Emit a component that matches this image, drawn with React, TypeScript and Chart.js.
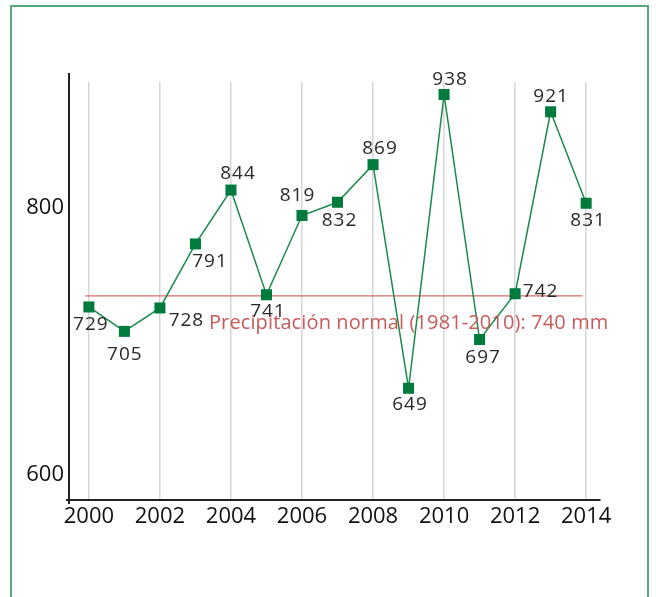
import React, { useEffect, useRef } from 'react';
import { Chart, registerables } from 'chart.js';

Chart.register(...registerables);

// ---- Data ----
const years = [2000, 2001, 2002, 2003, 2004, 2005, 2006, 2007, 2008, 2009, 2010, 2011, 2012, 2013, 2014];
const precipitation = [729, 705, 728, 791, 844, 741, 819, 832, 869, 649, 938, 697, 742, 921, 831];
const normalValue = 740;
const normalSpan = [1999.9, 2013.9];
const normalLabel = 'Precipitación normal (1981-2010): 740 mm';
const xTickValues = [2000, 2002, 2004, 2006, 2008, 2010, 2012, 2014];
const yTickValues = [600, 800];

// ---- Label placement (style) ----
const labelOffsets: number[][] = [
  [1.5, 17.5], [0, 23], [26, 12.5], [14, 17.5], [6.5, -16.5], [1, 16.5], [-5, -20], [1.5, 18],
  [6.5, -16.5], [1, 16.5], [5.5, -15], [3, 18.5], [25, -2], [0, -15.5], [1.5, 17.5],
];

const FONT = '"Open Sans", "DejaVu Sans", sans-serif';

const labelsPlugin = {
  id: 'customLabels',
  afterDatasetsDraw(chart: any) {
    const ctx = chart.ctx;
    const meta = chart.getDatasetMeta(0);
    ctx.save();
    ctx.font = `19px ${FONT}`;
    (ctx as any).letterSpacing = '1px';
    ctx.fillStyle = '#2a2a2a';
    ctx.textAlign = 'center';
    ctx.textBaseline = 'middle';
    meta.data.forEach((pt: any, i: number) => {
      const [dx, dy] = labelOffsets[i];
      ctx.fillText(String(precipitation[i]), pt.x + dx + 0.5, pt.y + dy);
    });
    // normal label
    const xs = chart.scales.x;
    const ys = chart.scales.yData;
    (ctx as any).letterSpacing = '0.12px';
    ctx.font = `20px ${FONT}`;
    ctx.fillStyle = '#c85a5a';
    ctx.textAlign = 'left';
    ctx.textBaseline = 'alphabetic';
    ctx.fillText(normalLabel, xs.getPixelForValue(2003.38), ys.getPixelForValue(normalValue) + 33);
    ctx.restore();
  },
  afterDraw(chart: any) {
    const { ctx, chartArea } = chart;
    ctx.save();
    ctx.strokeStyle = '#222';
    ctx.lineWidth = 2;
    ctx.beginPath();
    ctx.moveTo(chartArea.left, chartArea.top - 9);
    ctx.lineTo(chartArea.left, chartArea.bottom + 4);
    ctx.moveTo(chartArea.left - 3, chartArea.bottom);
    ctx.lineTo(chartArea.left, chartArea.bottom);
    ctx.stroke();
    ctx.restore();
  },
};

export default function App() {
  const canvasRef = useRef<HTMLCanvasElement | null>(null);

  useEffect(() => {
    if (!canvasRef.current) return;
    const chart = new Chart(canvasRef.current, {
      type: 'line',
      data: {
        datasets: [
          {
            label: 'Precipitación',
            data: years.map((y, i) => ({ x: y, y: precipitation[i] })),
            yAxisID: 'yData',
            borderColor: '#1b8a4b',
            borderWidth: 1.5,
            pointStyle: 'rect',
            pointRadius: 7.8,
            pointBorderWidth: 0,
            pointBackgroundColor: '#007a3d',
            pointBorderColor: '#007a3d',
            tension: 0,
          },
          {
            label: 'Normal',
            data: normalSpan.map((x) => ({ x, y: normalValue })),
            yAxisID: 'yData',
            borderColor: '#db6a66',
            borderWidth: 1.2,
            pointRadius: 0,
            order: 1,
          },
        ],
      },
      options: {
        animation: false,
        responsive: false,
        layout: { padding: { top: 82, right: 56, left: 0, bottom: 0 } },
        plugins: { legend: { display: false }, tooltip: { enabled: false } },
        scales: {
          x: {
            type: 'linear',
            min: 1999.44,
            max: 2014.39,
            afterBuildTicks: (scale: any) => {
              scale.ticks = xTickValues.map((v) => ({ value: v }));
            },
            afterFit: (scale: any) => {
              scale.height = 97;
            },
            grid: { color: '#d6d6d6', lineWidth: 1.5, drawTicks: false },
            border: { display: true, color: '#222', width: 2 },
            ticks: {
              color: '#111',
              font: { family: FONT, size: 22 },
              padding: 4,
              maxRotation: 0,
              autoSkip: false,
              callback: (v: any) => String(v),
            },
          },
          y: {
            type: 'linear',
            position: 'left',
            min: 581.3,
            max: 894.4,
            afterBuildTicks: (scale: any) => {
              scale.ticks = yTickValues.map((v) => ({ value: v }));
            },
            afterFit: (scale: any) => {
              scale.width = 69;
            },
            grid: { display: false, drawTicks: false },
            border: { display: true, color: '#222', width: 2 },
            ticks: {
              color: '#111',
              font: { family: FONT, size: 22 },
              padding: 5,
              callback: (v: any) => String(v),
            },
          },
          yData: {
            type: 'linear',
            display: false,
            min: 539.1,
            max: 950.3,
          },
        },
      },
      plugins: [labelsPlugin],
    } as any);
    return () => chart.destroy();
  }, []);

  return (
    <div style={{ position: 'fixed', left: 0, top: 0, width: 656, height: 597, background: '#fff', overflow: 'hidden' }}>
      <div
        style={{
          position: 'absolute',
          left: 10,
          top: 5,
          width: 639,
          height: 640,
          border: '2px solid #55a978',
          boxSizing: 'border-box',
        }}
      />
      <canvas
        ref={canvasRef}
        width={656}
        height={597}
        style={{ position: 'absolute', left: 0, top: 0, width: 656, height: 597 }}
      />
    </div>
  );
}
